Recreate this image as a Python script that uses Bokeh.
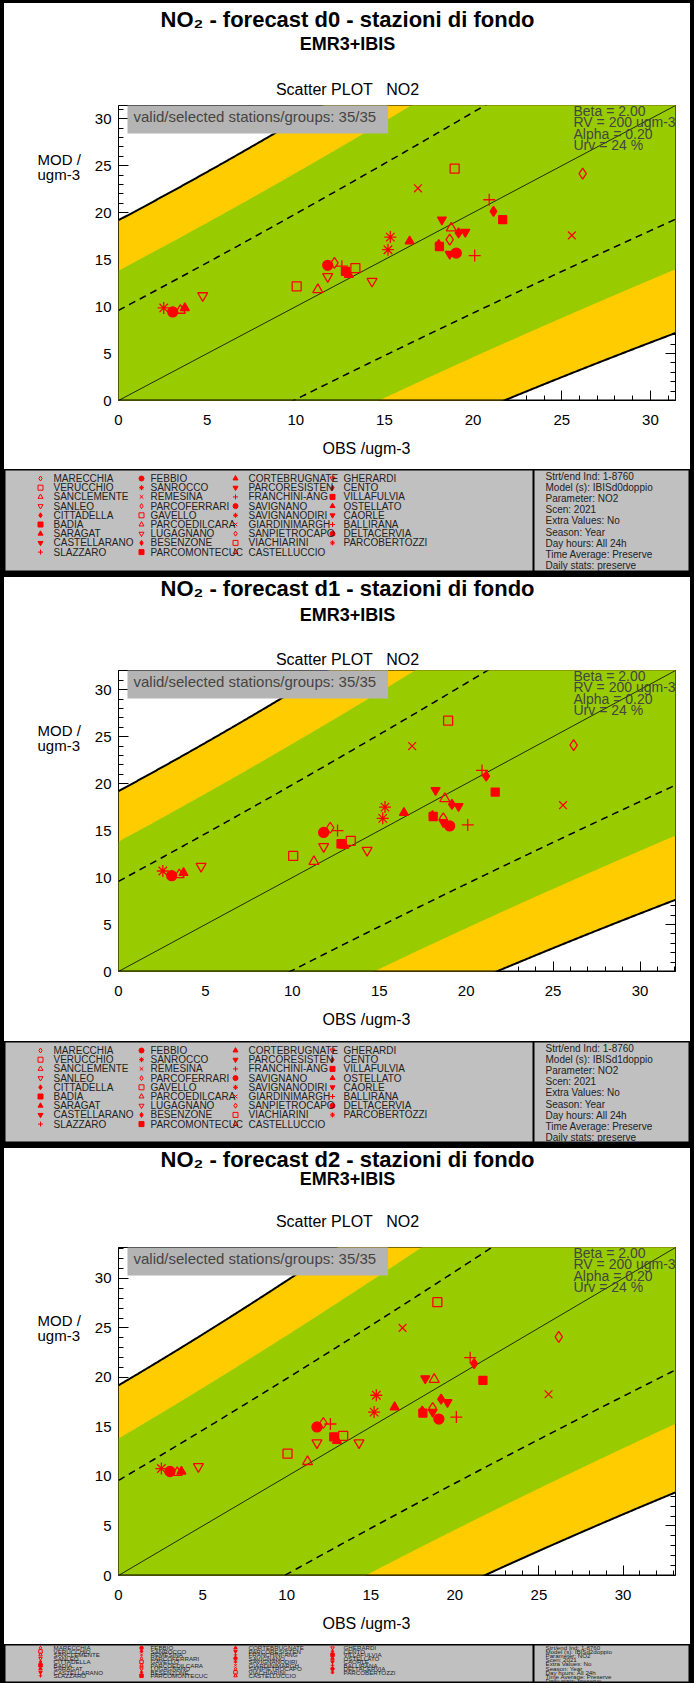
import numpy as np
from bokeh.plotting import figure
from bokeh.models import (Range1d, LinearAxis, Label, Spacer, SingleIntervalTicker,
                          ColumnDataSource, Span, CustomJSTickFormatter)
from bokeh.layouts import column, row
from bokeh.embed import file_html
from bokeh.resources import INLINE
from bokeh.core.properties import value

# ---------------------------------------------------------------- data
stations = ["MARECCHIA", "VERUCCHIO", "SANCLEMENTE", "SANLEO", "CITTADELLA", "BADIA",
            "SARAGAT", "CASTELLARANO", "SLAZZARO",
            "FEBBIO", "SANROCCO", "REMESINA", "PARCOFERRARI", "GAVELLO", "PARCOEDILCARA",
            "LUGAGNANO", "BESENZONE", "PARCOMONTECUC",
            "CORTEBRUGNATE", "PARCORESISTEN", "FRANCHINI-ANG", "SAVIGNANO", "SAVIGNANODIRI",
            "GIARDINIMARGH", "SANPIETROCAPO", "VIACHIARINI", "CASTELLUCCIO",
            "GHERARDI", "CENTO", "VILLAFULVIA", "OSTELLATO", "CAORLE", "BALLIRANA",
            "DELTACERVIA", "PARCOBERTOZZI"]

# observed yearly means (ugm-3), same for every forecast day
obs = [12.18, 10.05, 11.24, 4.75, 18.06, 12.80, 16.42, 18.24, 20.09,
       3.06, 2.55, 25.57, 18.68, 13.36, 18.77, 11.80, 19.18, 18.10,
       3.74, 19.56, 20.91, 11.80, 15.33, 16.89, 26.18, 18.96, 3.49,
       14.30, 21.15, 21.67, 12.99, 18.68, 12.60, 19.05, 15.20]

# modelled yearly means (ugm-3)
mod_d0 = [14.65, 12.16, 11.80, 11.17, 16.60, 13.76, 16.95, 19.26, 15.43,
          9.43, 9.86, 17.59, 17.13, 14.10, 18.37, 13.20, 17.84, 16.40,
          9.86, 17.94, 21.38, 14.40, 17.40, 22.60, 24.15, 24.70, 9.60,
          12.70, 20.14, 19.26, 13.40, 15.60, 14.30, 15.70, 16.06]

mod_d1 = [15.30, 12.30, 11.70, 11.20, 16.60, 13.60, 16.90, 19.30, 15.60,
          10.20, 10.70, 17.70, 16.30, 13.90, 18.40, 13.30, 17.80, 16.50,
          10.50, 17.60, 21.40, 14.80, 17.50, 24.00, 24.10, 26.70, 10.30,
          12.90, 20.80, 19.10, 13.40, 15.90, 15.00, 15.50, 16.30]

mod_d2 = [15.40, 12.30, 11.50, 11.00, 16.60, 14.00, 17.00, 19.90, 16.00,
          10.50, 10.80, 18.30, 16.90, 14.10, 19.80, 13.40, 17.80, 16.40,
          10.50, 17.50, 22.00, 15.00, 18.20, 25.00, 24.10, 27.60, 10.40,
          13.40, 21.40, 19.70, 13.60, 16.50, 15.30, 15.80, 16.50]

# target parameters
beta = 2.0
rv = 200.0
alpha = 0.20
urv = 0.24

info_lines = ["Strt/end Ind: 1-8760", "Model (s): IBIS{day}doppio", "Parameter: NO2",
              "Scen: 2021", "Extra Values: No", "Season: Year", "Day hours: All 24h",
              "Time Average: Preserve", "Daily stats: preserve"]

# ---------------------------------------------------------------- styling
SYMS = ["diamond", "square", "triangle", "inverted_triangle", "diamond", "square",
        "triangle", "inverted_triangle", "cross", "circle", "asterisk", "x"]
FILLED = [0, 0, 0, 0, 1, 1, 1, 1, 0, 1, 0, 0]
SIZES = [11, 9, 10, 10, 10, 8, 9, 9, 12, 10, 12, 11]

GREEN = "#99cc00"
ORANGE = "#ffcc00"
RED = "#ff0000"
FONT_NAME = "Liberation Sans"
FONT = value(FONT_NAME)

W = 686          # width inside the black side borders
LEFT_W = 86      # strip holding the y-axis title
FL = 28          # frame offset inside the scatter figure
FR = 15
FW = W - LEFT_W - FL - FR   # 557 px wide plot frame
X0 = 4           # page x of the first figure column


def pixel_fig(w, h, bg="white"):
    f = figure(width=w, height=h, x_range=Range1d(0, w), y_range=Range1d(h, 0),
               output_backend="svg", toolbar_location=None, min_border=0,
               x_axis_location=None, y_axis_location=None)
    f.grid.visible = False
    f.outline_line_color = None
    f.background_fill_color = bg
    f.border_fill_color = bg
    return f


def add_axes(p):
    tick = SingleIntervalTicker(interval=5, num_minor_ticks=5)
    blank = CustomJSTickFormatter(code="return ''")
    # tick-only box axes, painted beneath the target zones
    for side in ("left", "below", "above", "right"):
        p.add_layout(LinearAxis(ticker=tick, formatter=blank, level="underlay",
                                major_tick_in=10, major_tick_out=0,
                                minor_tick_in=5, minor_tick_out=0,
                                major_label_standoff=0, major_label_text_font_size="0px",
                                axis_line_color="black"), side)
    # label-only axes
    for side, so in (("left", 7), ("below", 14)):
        p.add_layout(LinearAxis(ticker=tick, major_tick_in=0, major_tick_out=0,
                                minor_tick_in=0, minor_tick_out=0,
                                axis_line_color=None, major_tick_line_color=None,
                                minor_tick_line_color=None, major_label_standoff=so,
                                major_label_text_font=FONT_NAME,
                                major_label_text_font_size="15px",
                                major_label_text_color="black"), side)


def panel(day, mod, top, frame_top, frame_bottom, legend_top, legend_h,
          y_title, y_sub, y_scat, legend_scale=1.0):
    rng = 1.2 * max(max(obs), max(mod))
    frame_h = frame_bottom - frame_top

    # ---- headings
    head_h = frame_top - 2 - top
    head = pixel_fig(W, head_h)
    cx = 347 - X0
    head.text(x=[cx], y=[y_title - top], text=["NO\u2082 - forecast " + day + " - stazioni di fondo"],
              text_align="center", text_baseline="middle", text_font=FONT,
              text_font_style="bold", text_font_size="22px")
    head.text(x=[cx], y=[y_sub - top], text=["EMR3+IBIS"], text_align="center",
              text_baseline="middle", text_font=FONT, text_font_style="bold",
              text_font_size="18px")
    head.text(x=[cx], y=[y_scat - top], text=["Scatter PLOT\u00a0\u00a0\u00a0NO2"],
              text_align="center", text_baseline="middle", text_font=FONT,
              text_font_size="16px")

    # ---- scatter plot
    mid_h = frame_h + 2 + 32
    p = figure(width=W - LEFT_W, height=mid_h, x_range=Range1d(0, rng), y_range=Range1d(0, rng),
               output_backend="svg", toolbar_location=None,
               x_axis_location=None, y_axis_location=None,
               min_border_left=FL, min_border_right=FR, min_border_top=2, min_border_bottom=32)
    p.background_fill_color = "white"
    p.border_fill_color = "white"
    p.grid.visible = False
    p.outline_line_color = "black"
    p.outline_line_width = 1

    o = np.linspace(0, rng, 400)
    u = urv * np.sqrt((1 - alpha ** 2) * o ** 2 + alpha ** 2 * rv ** 2)
    p.varea(x=o, y1=o - beta * u, y2=o + beta * u, fill_color=ORANGE)
    k = beta * 0.72
    p.varea(x=o, y1=o - k * u, y2=o + k * u, fill_color=GREEN)
    p.line(o, o + beta * u, line_color="black", line_width=2)
    p.line(o, o - beta * u, line_color="black", line_width=2)
    p.line(o, o + u, line_color="black", line_width=1.5, line_dash="7 5")
    p.line(o, o - u, line_color="black", line_width=1.5, line_dash="7 5")
    p.line([0, rng], [0, rng], line_color="black", line_width=0.8)

    n = len(stations)
    src = ColumnDataSource(dict(
        obs=obs, mod=mod,
        marker=[SYMS[i % 12] for i in range(n)],
        fa=[float(FILLED[i % 12]) for i in range(n)],
        size=[SIZES[i % 12] for i in range(n)],
    ))
    p.scatter("obs", "mod", marker="marker", size="size", source=src,
              line_color=RED, fill_color=RED, fill_alpha="fa", line_width=1.3)

    add_axes(p)
    p.add_layout(Span(location=0, dimension="width", line_color="black", line_width=2))

    def dx(px):
        return (px - (X0 + LEFT_W + FL)) / FW * rng

    def dy(py):
        return (frame_bottom - py) / frame_h * rng

    p.add_layout(Label(x=0, y=dy(frame_top + 12), x_offset=9,
                       text="valid/selected stations/groups: 35/35",
                       text_align="left", text_baseline="middle", text_font=FONT_NAME,
                       text_font_size="15px", background_fill_color="#b4b4b4",
                       padding=(6, 12, 6, 9)))
    params = ["Beta = %.2f" % beta, "RV = %d ugm-3" % rv, "Alpha = %.2f" % alpha,
              "Urv = %d %%" % round(urv * 100)]
    for i, t in enumerate(params):
        p.add_layout(Label(x=dx(573), y=dy(frame_top + 5 + 11.6 * i), text=t,
                           text_align="left", text_baseline="middle", text_font=FONT_NAME,
                           text_font_size="14px"))

    # ---- y-axis title strip
    left = pixel_fig(LEFT_W, mid_h)
    y_mod = 2 + frame_h * (1 - 25.2 / rng)
    left.text(x=[33, 33], y=[y_mod, y_mod + 17], text=["MOD /", "ugm-3"],
              text_baseline="middle", text_font=FONT, text_font_size="15px")

    # ---- x-axis title strip
    foot_h = legend_top - (frame_bottom + 32)
    foot = pixel_fig(W, foot_h)
    foot.text(x=[366 - X0], y=[16], text=["OBS /ugm-3"], text_align="center",
              text_baseline="middle", text_font=FONT, text_font_size="16px")

    # ---- legend
    s = legend_scale
    L = figure(width=W, height=legend_h, x_range=Range1d(0, W),
               y_range=Range1d(103 * s if s < 1 else legend_h, 0),
               output_backend="svg", toolbar_location=None, min_border=0,
               x_axis_location=None, y_axis_location=None)
    L.grid.visible = False
    L.background_fill_color = "#c0c0c0"
    L.border_fill_color = "#c0c0c0"
    L.outline_line_color = "black"
    L.outline_line_width = 2
    L.add_layout(Span(location=529, dimension="height", line_color="black", line_width=2))
    sym_x = [36, 137, 231, 328]
    name_x = [49, 146, 244, 339]
    cols = [i // 9 for i in range(n)]
    rows = [i % 9 for i in range(n)]
    lsrc = ColumnDataSource(dict(
        sx=[sym_x[c] for c in cols], nx=[name_x[c] for c in cols],
        y=[(9 + 9.2 * r) * s for r in rows], name=stations,
        marker=[SYMS[i % 12] for i in range(n)],
        fa=[float(FILLED[i % 12]) for i in range(n)]))
    L.scatter("sx", "y", marker="marker", size=5 * max(s, 0.7), source=lsrc, line_color=RED,
              fill_color=RED, fill_alpha="fa", line_width=1)
    fs = "%.1fpx" % (10 * max(s, 0.62))
    L.text("nx", "y", text="name", source=lsrc, text_font=FONT, text_font_size=value(fs),
           text_baseline="middle", text_color="#222222")
    info = [t.format(day=day) for t in info_lines]
    L.text(x=[541] * len(info), y=[(7 + 11.1 * i) * s for i in range(len(info))], text=info,
           text_font=FONT, text_font_size=value(fs), text_baseline="middle",
           text_color="#222222")

    return [head, row(left, p), foot, L]


BLACK = {"background-color": "black"}


def framed(fig):
    return row(Spacer(width=X0, height=fig.height, styles=BLACK), fig,
               Spacer(width=694 - X0 - W, height=fig.height, styles=BLACK))


def hbar(h):
    return Spacer(width=694, height=h, styles=BLACK)


parts = [hbar(3)]
parts += [framed(f) for f in panel("d0", mod_d0, 3, 105, 400, 469, 103, 19, 43, 89)]
parts.append(hbar(5))
parts += [framed(f) for f in panel("d1", mod_d1, 577, 670, 971, 1041, 102, 588, 614, 659)]
parts.append(hbar(5))
parts += [framed(f) for f in panel("d2", mod_d2, 1148, 1247, 1575, 1644, 39, 1159, 1178, 1221,
                                   legend_scale=0.38)]

layout = column(*parts)

open("out.html", "w").write(file_html(layout, INLINE))
